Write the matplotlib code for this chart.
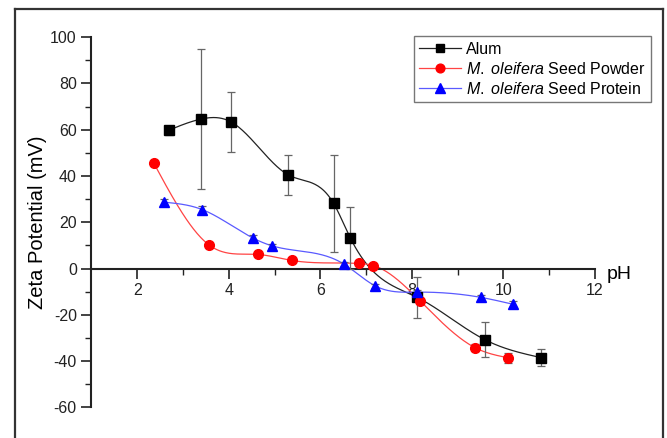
import numpy as np
import matplotlib
matplotlib.use("Agg")
import matplotlib.pyplot as plt
from matplotlib.lines import Line2D

plt.rcParams['font.family'] = ['Liberation Sans', 'DejaVu Sans']
plt.rcParams['mathtext.fontset'] = 'custom'
plt.rcParams['mathtext.it'] = 'Liberation Sans:italic'
plt.rcParams['mathtext.rm'] = 'Liberation Sans'
plt.rcParams['axes.unicode_minus'] = False

# ---- data ----
alum_ph = [2.69, 3.39, 4.06, 5.30, 6.29, 6.66, 8.12, 9.59, 10.82]
alum_zp = [59.8, 64.6, 63.3, 40.5, 28.2, 13.1, -12.5, -30.7, -38.5]
alum_err = [2.0, 30.2, 13.0, 8.5, 21.0, 13.3, 8.7, 7.5, 3.6]

powder_ph = [2.36, 3.57, 4.64, 5.38, 6.84, 7.16, 8.18, 9.39, 10.11]
powder_zp = [45.7, 10.2, 6.1, 3.5, 2.2, 1.3, -14.0, -34.3, -38.6]
powder_err = [0.8, 1.0, 0.8, 0.8, 0.8, 0.8, 1.0, 1.5, 2.2]

protein_ph = [2.59, 3.42, 4.52, 4.95, 6.51, 7.20, 8.12, 9.52, 10.20]
protein_zp = [28.7, 25.5, 13.3, 9.8, 2.0, -7.5, -10.2, -12.5, -15.4]
protein_err = [1.2, 1.5, 1.0, 0.8, 0.8, 1.0, 1.0, 1.2, 1.2]

labels = ['Alum', r'$\mathit{M.\ oleifera}$ Seed Powder', r'$\mathit{M.\ oleifera}$ Seed Protein']


def natural_spline(x, y, n=400):
    x = np.asarray(x, float)
    y = np.asarray(y, float)
    h = np.diff(x)
    m = len(x)
    A = np.zeros((m, m))
    b = np.zeros(m)
    A[0, 0] = 1
    A[-1, -1] = 1
    for i in range(1, m - 1):
        A[i, i - 1] = h[i - 1]
        A[i, i] = 2 * (h[i - 1] + h[i])
        A[i, i + 1] = h[i]
        b[i] = 6 * ((y[i + 1] - y[i]) / h[i] - (y[i] - y[i - 1]) / h[i - 1])
    M = np.linalg.solve(A, b)
    xs = np.linspace(x[0], x[-1], n)
    idx = np.clip(np.searchsorted(x, xs) - 1, 0, m - 2)
    x0, x1 = x[idx], x[idx + 1]
    hh = x1 - x0
    a = (x1 - xs) / hh
    bb = (xs - x0) / hh
    ys = (a * y[idx] + bb * y[idx + 1]
          + ((a ** 3 - a) * M[idx] + (bb ** 3 - bb) * M[idx + 1]) * hh ** 2 / 6)
    return xs, ys


fig = plt.figure(figsize=(6.67, 4.38), dpi=100)
ax = fig.add_axes([0.137, 0.070, 0.755, 0.845])

series = [
    (alum_ph, alum_zp, alum_err, '#222222', 'black', 's', 6.5),
    (powder_ph, powder_zp, powder_err, '#ff4444', '#ff0000', 'o', 7),
    (protein_ph, protein_zp, protein_err, '#5a5aff', '#0000ff', '^', 7.5),
]

handles = []
for (px, pz, pe, lc, mc, mk, ms), lab in zip(series, labels):
    xs, ys = natural_spline(px, pz)
    ax.plot(xs, ys, color=lc, lw=0.9, zorder=2)
    ax.errorbar(px, pz, yerr=pe, fmt='none', ecolor='#666666', elinewidth=0.9,
                capsize=3, capthick=0.9, zorder=3)
    ax.plot(px, pz, linestyle='none', marker=mk, markersize=ms, color=mc,
            markeredgecolor=mc, zorder=4)
    handles.append(Line2D([], [], color=lc, lw=0.9, marker=mk, markersize=ms * 0.9,
                          markerfacecolor=mc, markeredgecolor=mc))

ax.set_xlim(1, 12)
ax.set_ylim(-60, 100)
ax.spines['top'].set_visible(False)
ax.spines['right'].set_visible(False)
ax.spines['bottom'].set_position(('data', 0))
for s in ('left', 'bottom'):
    ax.spines[s].set_linewidth(1.5)
    ax.spines[s].set_color('#222222')

ax.set_xticks([2, 4, 6, 8, 10, 12])
ax.set_xticks([3, 5, 7, 9, 11], minor=True)
ax.set_yticks(np.arange(-60, 101, 20))
ax.set_yticks(np.arange(-50, 100, 20), minor=True)
ax.tick_params(which='major', direction='out', length=7, width=1.2, labelsize=11.5,
               colors='#222222')
ax.tick_params(which='minor', direction='out', length=4, width=1.0, colors='#222222')

ax.set_ylabel('Zeta Potential (mV)', fontsize=14.5, labelpad=2)
ax.annotate('pH', xy=(12, 0), xycoords='data', xytext=(8.5, -7.5), textcoords='offset points',
            fontsize=14, ha='left', va='baseline')

leg = ax.legend(handles, labels, loc='upper right',
                bbox_to_anchor=(651 / 667, 1 - 36 / 438), bbox_transform=fig.transFigure,
                borderaxespad=0, fontsize=11.5, frameon=True, fancybox=False,
                handlelength=2.6, handletextpad=0.3, labelspacing=0.25,
                borderpad=0.35)
leg.get_frame().set_edgecolor('#555555')
leg.get_frame().set_linewidth(1.0)

# outer frame (bottom edge cut off)
fc = '#333333'
fig.add_artist(Line2D([15 / 667, 15 / 667], [0, 1 - 9 / 438], transform=fig.transFigure, color=fc, lw=1.6))
fig.add_artist(Line2D([15 / 667, 663 / 667], [1 - 9 / 438, 1 - 9 / 438], transform=fig.transFigure, color=fc, lw=1.6))
fig.add_artist(Line2D([663 / 667, 663 / 667], [0, 1 - 9 / 438], transform=fig.transFigure, color=fc, lw=1.6))

fig.savefig('out.png', dpi=100)
